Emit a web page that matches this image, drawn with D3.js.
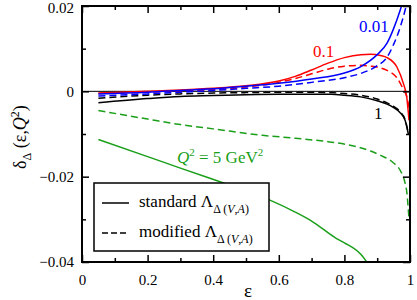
<!DOCTYPE html>
<html>
<head>
<meta charset="utf-8">
<script src="https://cdn.jsdelivr.net/npm/d3@7"></script>
<style>
  body { margin: 0; background: #fff; }
</style>
</head>
<body>
<script>
// values (epsilon, delta)
var eps1 = [0.05, 0.2, 0.3, 0.4, 0.5, 0.6, 0.7, 0.8, 0.85, 0.9, 0.93, 0.95, 0.97, 0.98];
var blueSolid = [-0.0006, -0.0002, 0.0002, 0.0006, 0.0012, 0.0019, 0.0029, 0.0043, 0.0058, 0.0086, 0.0113, 0.0147, 0.019, 0.0215];
var eps2 = [0.05, 0.2, 0.3, 0.4, 0.5, 0.6, 0.7, 0.8, 0.85, 0.9, 0.93, 0.95, 0.97, 0.985, 0.993];
var blueDash = [-0.0011, -0.0006, -0.0002, 0.0002, 0.0007, 0.0012, 0.0021, 0.0032, 0.0042, 0.006, 0.008, 0.011, 0.015, 0.019, 0.0215];

var eps3 = [0.05, 0.2, 0.3, 0.4, 0.5, 0.6, 0.65, 0.7, 0.75, 0.8, 0.85, 0.88, 0.91, 0.93, 0.96, 0.98, 0.99, 0.997];
var redSolid = [-0.0004, 0.0, 0.0003, 0.0007, 0.0013, 0.0024, 0.0035, 0.0050, 0.0066, 0.0079, 0.0086, 0.0087, 0.0084, 0.0079, 0.0057, 0.0018, -0.0013, -0.0068];
var redDash = [-0.0005, -0.0002, 0.0001, 0.0004, 0.0010, 0.0021, 0.0030, 0.0041, 0.0052, 0.0059, 0.0061, 0.0059, 0.0055, 0.0049, 0.0032, 0.0004, -0.0012, -0.0038];

var eps4 = [0.05, 0.2, 0.3, 0.4, 0.5, 0.6, 0.7, 0.76, 0.8, 0.85, 0.9, 0.93, 0.95, 0.97, 0.985, 0.995];
var blackSolid = [-0.0027, -0.0017, -0.0012, -0.0010, -0.0008, -0.0007, -0.0007, -0.0007, -0.0009, -0.0013, -0.0022, -0.0030, -0.0038, -0.0050, -0.0068, -0.0100];
var blackDash = [-0.0016, -0.0009, -0.0006, -0.0004, -0.0003, -0.0002, -0.0002, -0.0003, -0.0005, -0.0009, -0.0018, -0.0027, -0.0035, -0.0048, -0.0066, -0.0098];

var eps5 = [0.05, 0.2, 0.3, 0.436, 0.5, 0.573, 0.65, 0.7, 0.776, 0.8, 0.85, 0.868];
var greenSolid = [-0.0113, -0.0153, -0.0180, -0.0216, -0.0233, -0.0255, -0.0283, -0.0304, -0.0345, -0.0355, -0.0382, -0.0400];
var eps6 = [0.05, 0.2, 0.3, 0.4, 0.55, 0.65, 0.75, 0.81, 0.88, 0.91, 0.95, 0.97, 0.985, 0.99, 0.997];
var greenDash = [-0.0045, -0.0065, -0.0078, -0.0088, -0.0103, -0.0110, -0.0118, -0.0125, -0.0140, -0.0150, -0.0168, -0.0185, -0.0215, -0.0235, -0.0300];

var xTicks = [0, 0.2, 0.4, 0.6, 0.8, 1];
var xMinor = [0.1, 0.3, 0.5, 0.7, 0.9];
var yTicks = [-0.04, -0.02, 0, 0.02];
var yMinor = [-0.03, -0.01, 0.01];

var W = 417, H = 300;
var FONT = 'Liberation Serif';
var x = d3.scaleLinear().domain([0, 1]).range([82, 410]);
var y = d3.scaleLinear().domain([-0.04, 0.02]).range([262, 6]);

var svg = d3.select('body').append('svg').attr('width', W).attr('height', H)
  .attr('font-family', FONT);

svg.append('clipPath').attr('id', 'clip')
  .append('rect').attr('x', x(0)).attr('y', y(0.02)).attr('width', x(1) - x(0)).attr('height', y(-0.04) - y(0.02));

// zero line
svg.append('line').attr('x1', x(0)).attr('x2', x(1)).attr('y1', y(0)).attr('y2', y(0))
  .attr('stroke', '#000').attr('stroke-width', 1);

var line = d3.line().x(function (d) { return x(d[0]); }).y(function (d) { return y(d[1]); }).curve(d3.curveMonotoneX);

var series = [
  { e: eps6, v: greenDash, c: '#1a9f1a', dash: true },
  { e: eps5, v: greenSolid, c: '#1a9f1a', dash: false },
  { e: eps4, v: blackDash, c: '#000', dash: true },
  { e: eps4, v: blackSolid, c: '#000', dash: false },
  { e: eps3, v: redDash, c: '#ff0000', dash: true },
  { e: eps3, v: redSolid, c: '#ff0000', dash: false },
  { e: eps2, v: blueDash, c: '#0000ff', dash: true },
  { e: eps1, v: blueSolid, c: '#0000ff', dash: false }
];

var g = svg.append('g').attr('clip-path', 'url(#clip)');
series.forEach(function (s) {
  g.append('path').datum(d3.zip(s.e, s.v))
    .attr('d', line).attr('fill', 'none')
    .attr('stroke', s.c).attr('stroke-width', 1.5)
    .attr('stroke-dasharray', s.dash ? '7,4' : null);
});

// axes, ticks inward
function fmt(d) { return d === 0 ? '0' : d3.format('')(d).replace('-', '\u2212'); }

svg.append('g').attr('transform', 'translate(0,' + y(-0.04) + ')')
  .call(d3.axisBottom(x).tickValues(xTicks).tickSize(-7).tickPadding(12).tickFormat(fmt));
svg.append('g').attr('transform', 'translate(0,' + y(0.02) + ')')
  .call(d3.axisTop(x).tickValues(xTicks).tickSize(-7).tickFormat(''));
svg.append('g').attr('transform', 'translate(' + x(0) + ',0)')
  .call(d3.axisLeft(y).tickValues(yTicks).tickSize(-7).tickPadding(8).tickFormat(fmt));
svg.append('g').attr('transform', 'translate(' + x(1) + ',0)')
  .call(d3.axisRight(y).tickValues(yTicks).tickSize(-7).tickFormat(''));

svg.append('g').attr('transform', 'translate(0,' + y(-0.04) + ')')
  .call(d3.axisBottom(x).tickValues(xMinor).tickSize(-4).tickFormat(''));
svg.append('g').attr('transform', 'translate(0,' + y(0.02) + ')')
  .call(d3.axisTop(x).tickValues(xMinor).tickSize(-4).tickFormat(''));
svg.append('g').attr('transform', 'translate(' + x(0) + ',0)')
  .call(d3.axisLeft(y).tickValues(yMinor).tickSize(-4).tickFormat(''));
svg.append('g').attr('transform', 'translate(' + x(1) + ',0)')
  .call(d3.axisRight(y).tickValues(yMinor).tickSize(-4).tickFormat(''));

svg.selectAll('.domain').remove();
svg.selectAll('.tick line').attr('stroke', '#000').attr('stroke-width', 1.5);
svg.selectAll('.tick text').attr('font-size', 15).attr('fill', '#000');
// the top label would poke out of the window at its centred position
svg.selectAll('.tick text').filter(function (d) { return d === 0.02; }).attr('dy', '0.4em');

svg.append('rect').attr('x', x(0)).attr('y', y(0.02)).attr('width', x(1) - x(0)).attr('height', y(-0.04) - y(0.02))
  .attr('fill', 'none').attr('stroke', '#000').attr('stroke-width', 2);

// curve labels
svg.append('text').attr('x', 359).attr('y', 32).attr('font-size', 17).attr('fill', '#0000ff').text('0.01');
svg.append('text').attr('x', 313).attr('y', 57).attr('font-size', 17).attr('fill', '#ff0000').text('0.1');
svg.append('text').attr('x', 374).attr('y', 119).attr('font-size', 17).attr('fill', '#000').text('1');

var q = svg.append('text').attr('x', 177).attr('y', 163).attr('font-size', 17).attr('fill', '#1a9f1a');
q.append('tspan').attr('font-style', 'italic').text('Q');
q.append('tspan').attr('font-size', 11).attr('dy', -7).text('2');
q.append('tspan').attr('dy', 7).text(' = 5 GeV');
q.append('tspan').attr('font-size', 11).attr('dy', -7).text('2');

// axis titles
svg.append('text').attr('x', 248).attr('y', 297).attr('font-size', 19).attr('text-anchor', 'middle').text('\u03b5');

var yl = svg.append('text').attr('transform', 'translate(26,137) rotate(-90)')
  .attr('text-anchor', 'middle').attr('font-size', 18);
yl.append('tspan').text('\u03b4');
yl.append('tspan').attr('font-size', 12).attr('dy', 5).text('\u0394');
yl.append('tspan').attr('dy', -5).text(' (\u03b5,');
yl.append('tspan').attr('font-style', 'italic').text('Q');
yl.append('tspan').attr('font-size', 12).attr('dy', -7).text('2');
yl.append('tspan').attr('dy', 7).text(')');

// legend
var leg = svg.append('g');
leg.append('rect').attr('x', 94).attr('y', 183).attr('width', 175).attr('height', 68)
  .attr('fill', '#fff').attr('stroke', '#000').attr('stroke-width', 1.5);
var legItems = [
  { label: 'standard \u039b', dash: false, yy: 203 },
  { label: 'modified \u039b', dash: true, yy: 233 }
];
legItems.forEach(function (it) {
  leg.append('line').attr('x1', 102).attr('x2', 129).attr('y1', it.yy).attr('y2', it.yy)
    .attr('stroke', '#000').attr('stroke-width', 1.5).attr('stroke-dasharray', it.dash ? '6,3' : null);
  var t = leg.append('text').attr('x', 139).attr('y', it.yy + 4).attr('font-size', 17);
  t.append('tspan').text(it.label);
  t.append('tspan').attr('font-size', 12).attr('dy', 6).text('\u0394 (');
  t.append('tspan').attr('font-size', 12).attr('font-style', 'italic').text('V');
  t.append('tspan').attr('font-size', 12).text(',');
  t.append('tspan').attr('font-size', 12).attr('font-style', 'italic').text('A');
  t.append('tspan').attr('font-size', 12).text(')');
});

svg.selectAll('text').attr('font-family', FONT);
</script>
</body>
</html>
